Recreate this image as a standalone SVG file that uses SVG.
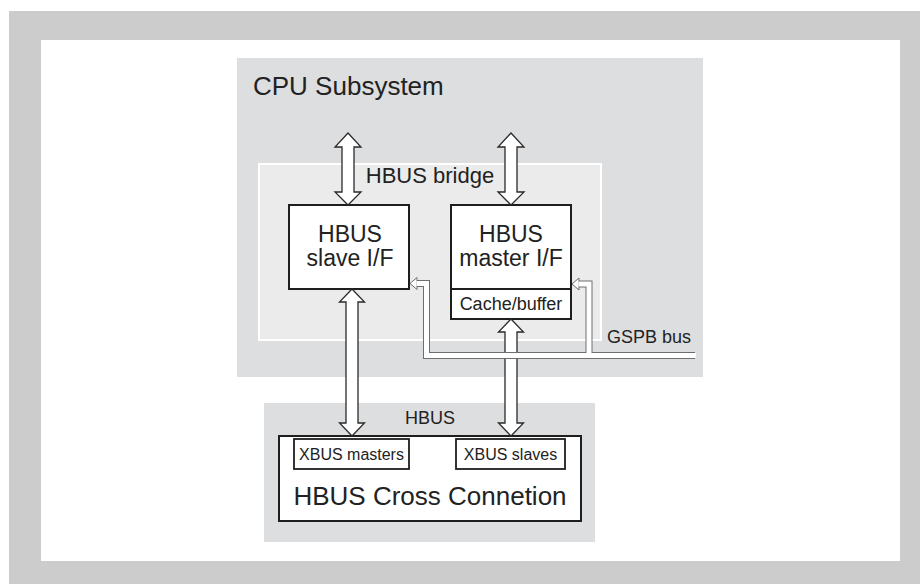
<svg xmlns="http://www.w3.org/2000/svg" width="920" height="584" viewBox="0 0 920 584">
  <defs>
    <style>
      text { font-family: "Liberation Sans", Arial, Helvetica, sans-serif; fill: #222; }
      .box { fill: #fff; stroke: #1e1e1e; stroke-width: 2; }
      .sub { fill: #fff; stroke: #1e1e1e; stroke-width: 1.8; }
      .arrow { fill: #fff; stroke: #2a2a2a; stroke-width: 1.3; stroke-linejoin: miter; }
      .tube-out { fill: none; stroke: #6e6e6e; stroke-width: 7; stroke-linejoin: miter; }
      .tube-in { fill: none; stroke: #fff; stroke-width: 5; stroke-linejoin: miter; }
      .tip { fill: #fff; stroke: #6e6e6e; stroke-width: 1; }
    </style>
  </defs>

  <!-- page frame -->
  <rect x="0" y="0" width="920" height="584" fill="#fff"/>
  <rect x="9" y="11" width="911" height="573" fill="#cccccc"/>
  <rect x="41" y="40" width="859" height="521" fill="#fff"/>

  <!-- CPU subsystem region -->
  <g id="cpu-subsystem">
    <rect x="237" y="58" width="466" height="319" fill="#dddee0"/>
    <text x="253" y="95" font-size="26">CPU Subsystem</text>
  </g>

  <!-- HBUS bridge region -->
  <g id="hbus-bridge">
    <rect x="259" y="164" width="342" height="176" fill="#ebebeb" stroke="#fff" stroke-width="2"/>
    <text x="430" y="183" font-size="22" text-anchor="middle">HBUS bridge</text>
  </g>

  <!-- HBUS region -->
  <g id="hbus">
    <rect x="264" y="403" width="331" height="139" fill="#dddee0"/>
    <text x="430" y="424" font-size="18" text-anchor="middle">HBUS</text>
  </g>

  <!-- HBUS slave interface -->
  <g id="slave-if">
    <rect class="box" x="289" y="205" width="120" height="84"/>
    <text x="350" y="242" font-size="23" text-anchor="middle">HBUS</text>
    <text x="350" y="266" font-size="23" text-anchor="middle">slave I/F</text>
  </g>

  <!-- HBUS master interface with cache -->
  <g id="master-if">
    <rect class="box" x="451" y="205" width="120" height="114"/>
    <line x1="451" y1="289" x2="571" y2="289" stroke="#1e1e1e" stroke-width="2"/>
    <text x="511" y="242" font-size="23" text-anchor="middle">HBUS</text>
    <text x="511" y="266" font-size="23" text-anchor="middle">master I/F</text>
    <text x="511" y="310" font-size="18" text-anchor="middle">Cache/buffer</text>
  </g>

  <!-- HBUS cross connection -->
  <g id="cross-connection">
    <rect class="box" x="279" y="436" width="302" height="85"/>
    <text x="430" y="505" font-size="26" text-anchor="middle">HBUS Cross Connetion</text>
  </g>
  <g id="xbus-masters">
    <rect class="sub" x="294" y="439" width="115" height="30"/>
    <text x="351.5" y="460" font-size="16" text-anchor="middle">XBUS masters</text>
  </g>
  <g id="xbus-slaves">
    <rect class="sub" x="456" y="439" width="109" height="30"/>
    <text x="510.5" y="460" font-size="16" text-anchor="middle">XBUS slaves</text>
  </g>

  <!-- connectors -->
  <g id="connectors">
    <!-- double-headed bus arrows -->
    <polygon class="arrow" points="348,133 361,147 354,147 354,192 361,192 348,205 335,192 342,192 342,147 335,147"/>
    <polygon class="arrow" points="511,133 524,147 517,147 517,192 524,192 511,205 498,192 505,192 505,147 498,147"/>
    <polygon class="arrow" points="352,289 364.5,302 358,302 358,423 364.5,423 352,436 339.5,423 346,423 346,302 339.5,302"/>
    <polygon class="arrow" points="511,319 523.5,332 517,332 517,423 523.5,423 511,436 498.5,423 505,423 505,332 498.5,332"/>

    <!-- GSPB bus (hollow double-line bus) -->
    <path class="tube-out" d="M416,283.5 H426.5 V355.5 H695"/>
    <path class="tube-out" d="M578,284 H589 V355.5"/>
    <polygon class="tip" points="410,283.5 417,277.5 417,289.5"/>
    <polygon class="tip" points="572,284 579,278 579,290"/>
    <path class="tube-in" d="M416.5,283.5 H426.5 V355.5 H696"/>
    <path class="tube-in" d="M578.5,284 H589 V355.5"/>
    <text x="607" y="343" font-size="18">GSPB bus</text>
  </g>
</svg>
